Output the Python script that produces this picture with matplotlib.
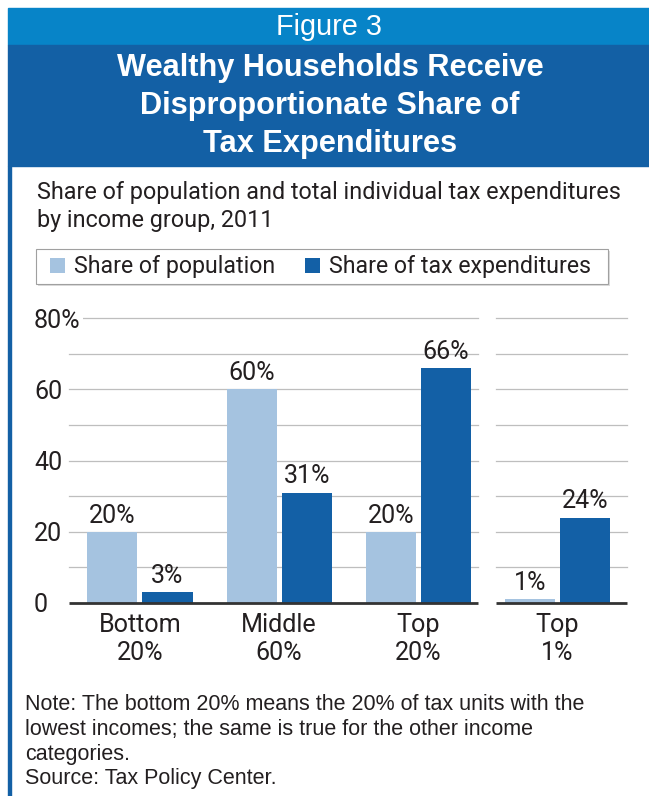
import matplotlib
matplotlib.use("Agg")
import matplotlib.pyplot as plt
from matplotlib.patches import Rectangle
import numpy as np

# ---------------- data ----------------
categories = ["Bottom\n20%", "Middle\n60%", "Top\n20%", "Top\n1%"]
share_population = [20, 60, 20, 1]
share_tax_exp = [3, 31, 66, 24]
series_names = ["Share of population", "Share of tax expenditures"]
y_ticks = [0, 20, 40, 60, 80]
y_tick_labels = ["0", "20", "40", "60", "80%"]
grid_values = [10, 20, 30, 40, 50, 60, 70, 80]

header_label = "Figure 3"
title_lines = ["Wealthy Households Receive", "Disproportionate Share of", "Tax Expenditures"]
subtitle_lines = ["Share of population and total individual tax expenditures",
                  "by income group, 2011"]
note_lines = ["Note: The bottom 20% means the 20% of tax units with the",
              "lowest incomes; the same is true for the other income",
              "categories.",
              "Source: Tax Policy Center."]

# ---------------- style ----------------
W, H = 649, 796
LIGHT_BAND = "#0784C8"
DARK_BAND = "#1360A5"
LIGHT_BAR = "#A5C3E0"
DARK_BAR = "#1360A6"
TXT = "#231F20"
CHART = ["Roboto", "DejaVu Sans"]
SANS = ["Liberation Sans", "DejaVu Sans"]

plt.rcParams["font.family"] = CHART

def fx(px):
    return px / W

def fy(py):
    return 1 - py / H

fig = plt.figure(figsize=(W / 100, H / 100), dpi=100)
fig.patch.set_facecolor("white")
renderer = fig.canvas.get_renderer()

def fit(s, family, target_px, weight="normal", base=20.0):
    t = fig.text(0, 0, s, fontsize=base, family=family, fontweight=weight)
    w = t.get_window_extent(renderer=renderer).width
    t.remove()
    return base * target_px / w

header_fs = fit(header_label, SANS, 106)
title_fs = fit(title_lines[0], SANS, 426, weight="bold")
sub_fs = fit(subtitle_lines[0], CHART, 583)
leg_fs = fit(series_names[1], CHART, 262)
chart_fs = 0.5 * (fit("Bottom", CHART, 80) + fit("60%", CHART, 48))
note_fs = fit(note_lines[0], SANS, 560)

# header bands and left border
fig.patches.append(Rectangle((fx(8), fy(45)), fx(W) - fx(8), fy(8) - fy(45),
                             transform=fig.transFigure, color=LIGHT_BAND, zorder=-3))
fig.patches.append(Rectangle((fx(8), fy(166)), fx(W) - fx(8), fy(45) - fy(166),
                             transform=fig.transFigure, color=DARK_BAND, zorder=-3))
fig.patches.append(Rectangle((fx(8), fy(H)), fx(11) - fx(8), fy(166) - fy(H),
                             transform=fig.transFigure, color=DARK_BAND, zorder=-3))

fig.text(fx(329), fy(35), header_label, ha="center", va="baseline", color="white",
         fontsize=header_fs, family=SANS)
for yy, line in zip([76, 114, 152], title_lines):
    fig.text(fx(330), fy(yy), line, ha="center", va="baseline", color="white",
             fontsize=title_fs, family=SANS, fontweight="bold")

for yy, line in zip([199, 227], subtitle_lines):
    fig.text(fx(37), fy(yy), line, ha="left", va="baseline", color=TXT, fontsize=sub_fs)

for yy, line in zip([710, 735, 760, 784], note_lines):
    fig.text(fx(25), fy(yy), line, ha="left", va="baseline", color=TXT,
             fontsize=note_fs, family=SANS)

# legend frame (drawn in figure pixels) with soft shadow, beneath the axes
frame = Rectangle((fx(36), fy(284)), fx(608) - fx(36), fy(249) - fy(284),
                  transform=fig.transFigure, facecolor="white", edgecolor="#A0A0A0",
                  linewidth=0.8, zorder=-1)
shadow = Rectangle((fx(38), fy(286)), fx(608) - fx(36), fy(249) - fy(284),
                   transform=fig.transFigure, facecolor="#DCDCDC", edgecolor="none",
                   zorder=-2)
fig.patches.extend([shadow, frame])

# ---------------- chart ----------------
ax = fig.add_axes([fx(69), fy(603), fx(627) - fx(69), fy(318) - fy(603)])
ax.set_facecolor("none")
x = np.arange(len(categories))
bw = 0.36
off = 0.198
b1 = ax.bar(x - off, share_population, width=bw, color=LIGHT_BAR, zorder=3,
            label=series_names[0])
b2 = ax.bar(x + off, share_tax_exp, width=bw, color=DARK_BAR, zorder=3,
            label=series_names[1])
ax.bar_label(b1, labels=[f"{v}%" for v in share_population], padding=3,
             fontsize=chart_fs, color=TXT)
ax.bar_label(b2, labels=[f"{v}%" for v in share_tax_exp], padding=3,
             fontsize=chart_fs, color=TXT)

ax.set_xlim(-0.51, 3.5)
ax.set_ylim(0, 80)
for s in ax.spines.values():
    s.set_visible(False)

# gridlines in two panels
segments = [(-0.51, 2.43), (2.555, 3.5)]
for g in grid_values:
    for a, b in segments:
        ax.plot([a, b], [g, g], color="#BEBEBE", lw=0.9, zorder=1, clip_on=False)
for a, b in segments:
    ax.plot([a, b], [0, 0], color="#333333", lw=2.0, zorder=4, clip_on=False,
            solid_capstyle="butt")

ax.set_xticks(x)
ax.set_xticklabels(categories, fontsize=chart_fs, color=TXT, linespacing=1.25)
ax.set_yticks(y_ticks)
ax.set_yticklabels(y_tick_labels, fontsize=chart_fs, color=TXT, ha="left")
ax.tick_params(axis="x", length=0, pad=7)
ax.tick_params(axis="y", length=0, pad=25.2)
for lab in ax.get_yticklabels():
    lab.set_bbox(dict(facecolor="white", edgecolor="none", pad=1.5))

fs_px = leg_fs * 100 / 72
leg = ax.legend(handles=[b1, b2], labels=series_names, ncols=2, loc="center left",
                bbox_to_anchor=(fx(50), fy(267)), bbox_transform=fig.transFigure,
                borderaxespad=0, borderpad=0, fontsize=leg_fs,
                handlelength=15 / fs_px, handleheight=15 / fs_px,
                handletextpad=9 / fs_px, columnspacing=30 / fs_px,
                frameon=False)
for t in leg.get_texts():
    t.set_color(TXT)

fig.savefig("out.png", dpi=100, facecolor="white")
